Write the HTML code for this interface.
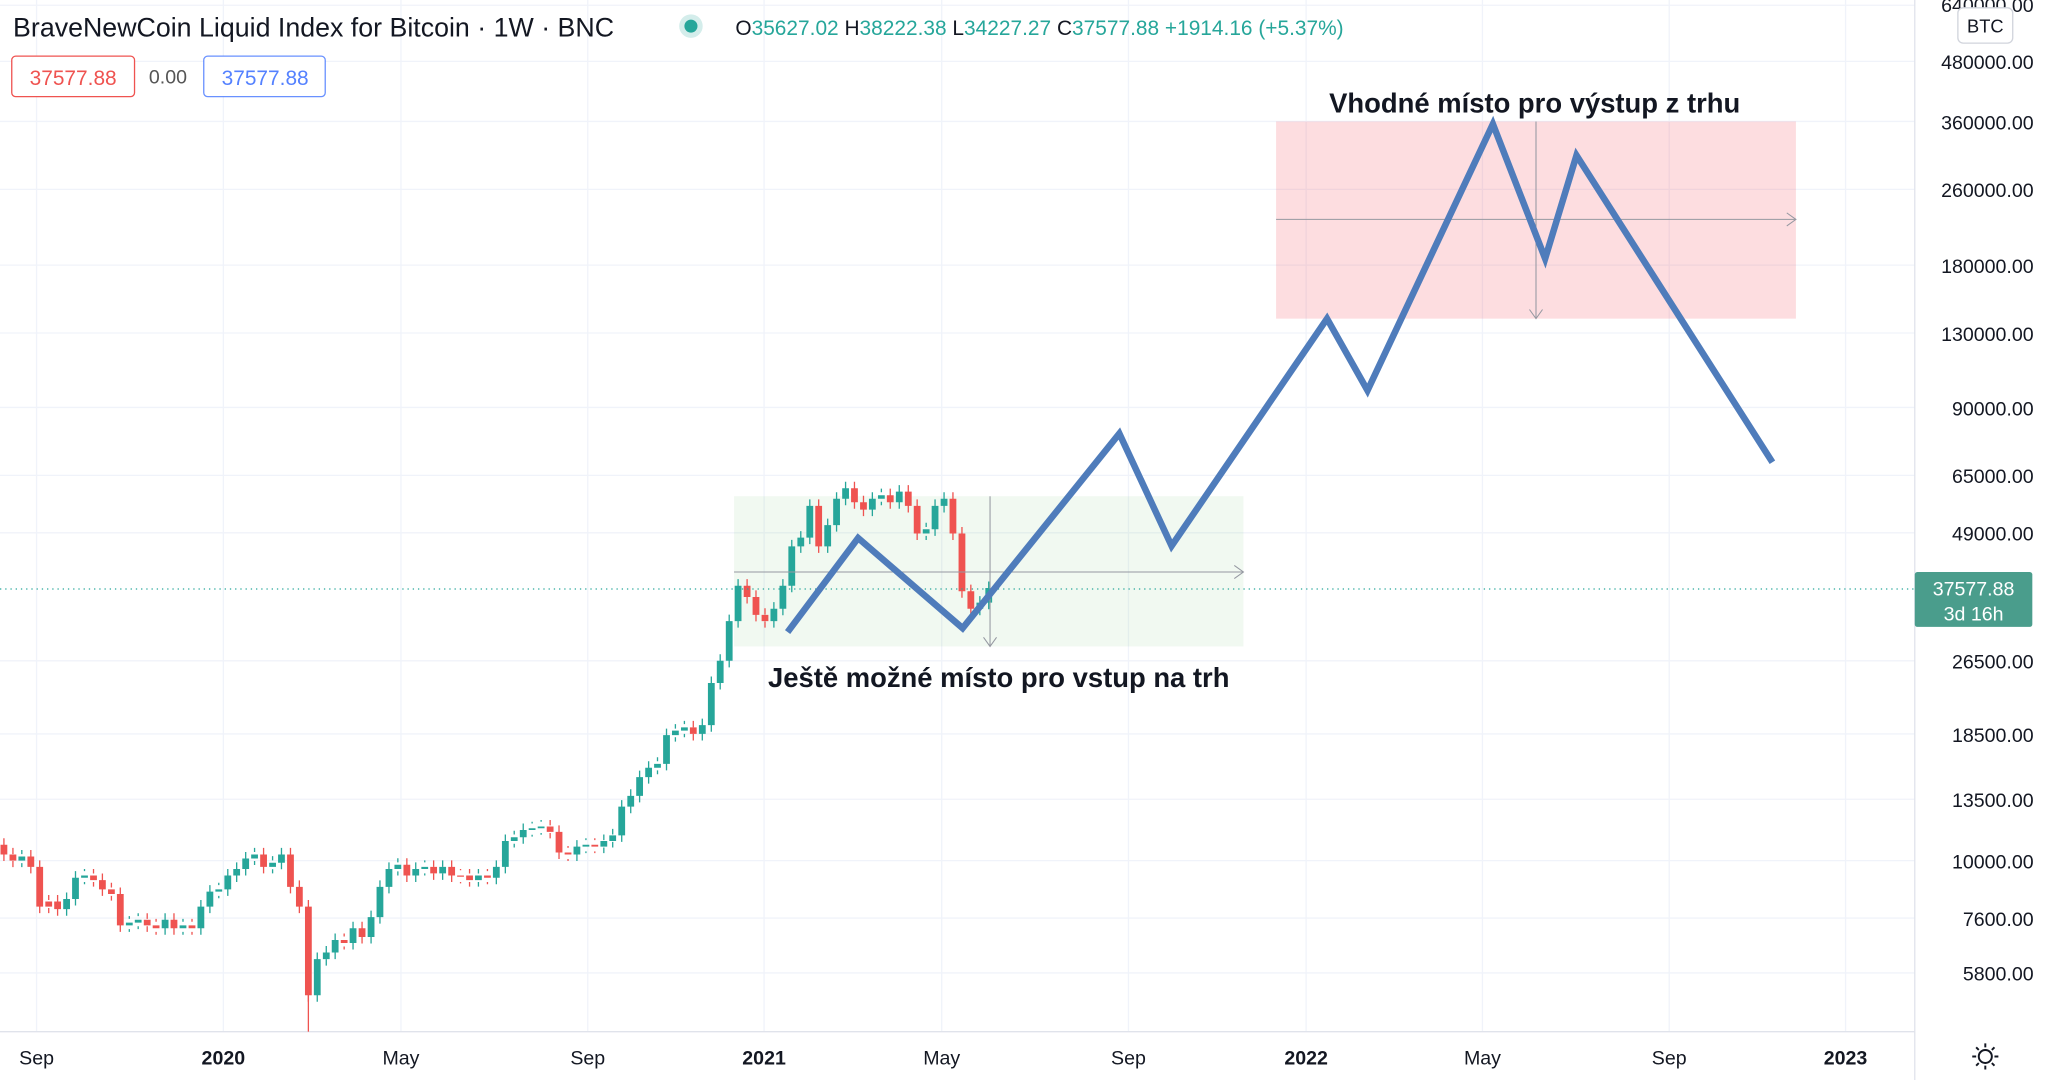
<!DOCTYPE html>
<html><head><meta charset="utf-8"><style>
html,body{margin:0;padding:0;background:#fff;}
svg{display:block;font-family:"Liberation Sans",sans-serif;}
</style></head><body>
<svg width="2048" height="1080" viewBox="0 0 1568 827" preserveAspectRatio="none" xmlns="http://www.w3.org/2000/svg" xmlns:xlink="http://www.w3.org/1999/xlink">
<rect width="1568" height="827" fill="#fff"/>
<g stroke="#f0f3fa" stroke-width="1">
<line x1="0" x2="1466" y1="4" y2="4"/><line x1="0" x2="1466" y1="47" y2="47"/><line x1="0" x2="1466" y1="93" y2="93"/><line x1="0" x2="1466" y1="145" y2="145"/><line x1="0" x2="1466" y1="203" y2="203"/><line x1="0" x2="1466" y1="255" y2="255"/><line x1="0" x2="1466" y1="312" y2="312"/><line x1="0" x2="1466" y1="364" y2="364"/><line x1="0" x2="1466" y1="408" y2="408"/><line x1="0" x2="1466" y1="506" y2="506"/><line x1="0" x2="1466" y1="562" y2="562"/><line x1="0" x2="1466" y1="612" y2="612"/><line x1="0" x2="1466" y1="659" y2="659"/><line x1="0" x2="1466" y1="703" y2="703"/><line x1="0" x2="1466" y1="745" y2="745"/>
<line x1="28" x2="28" y1="0" y2="790"/><line x1="171" x2="171" y1="0" y2="790"/><line x1="307" x2="307" y1="0" y2="790"/><line x1="450" x2="450" y1="0" y2="790"/><line x1="585" x2="585" y1="0" y2="790"/><line x1="721" x2="721" y1="0" y2="790"/><line x1="864" x2="864" y1="0" y2="790"/><line x1="1000" x2="1000" y1="0" y2="790"/><line x1="1135" x2="1135" y1="0" y2="790"/><line x1="1278" x2="1278" y1="0" y2="790"/><line x1="1413" x2="1413" y1="0" y2="790"/>
</g>
<line x1="1466" x2="1466" y1="0" y2="827" stroke="#e0e3eb"/>
<line x1="0" x2="1466" y1="790" y2="790" stroke="#e0e3eb"/>
<rect x="562" y="380" width="390" height="115" fill="#4caf50" fill-opacity="0.08"/>
<rect x="977" y="93" width="398" height="151" fill="#f23645" fill-opacity="0.17"/>
<defs>
<path id="g" d="M16.7 655.9V659M51 688.4V696.2M57.8 672.1V688.4M64.7 670.4V672.1M99 706.5V708.6M105.8 704.3V706.5M126.4 704.3V710.8M140.1 708.6V710.8M153.8 694.2V710.8M160.7 682.8V694.2M167.5 681V682.8M174.4 670.4V681M181.2 665.4V670.4M188.1 657.4V665.4M194.9 654.3V657.4M208.7 660.6V663.8M215.5 654.3V660.6M242.9 734.4V762.1M249.8 729.4V734.4M256.6 719.8V729.4M270.3 710.8V722.1M284.1 702.3V717.5M290.9 679.1V702.3M297.8 665.4V679.1M304.6 662.2V665.4M318.3 665.4V670.4M325.2 663.8V665.4M338.9 663.8V668.8M366.3 670.4V673.9M380 663.8V672.1M386.9 644V663.8M393.7 641.1V644M400.6 635.6V641.1M407.4 634.2V635.6M414.3 632.9V634.2M441.7 648.3V654.3M448.6 646.9V648.3M462.3 644V648.3M469.1 639.7V644M476 617.7V639.7M482.9 609.4V617.7M489.7 595.1V609.4M496.6 587.9V595.1M503.4 584.9V587.9M510.3 562.9V584.9M517.1 559.5V562.9M524 557V559.5M537.7 555.3V562M544.6 523V555.3M551.4 506V523M558.3 475.6V506M565.1 448.5V475.6M592.5 466.1V475.6M599.4 448.5V466.1M606.2 418.4V448.5M613.1 411.7V418.4M620 387.4V411.7M633.7 402.1V418.4M640.5 381.9V402.1M647.4 373.9V381.9M667.9 381.9V390.2M674.8 379.2V381.9M688.5 376.5V384.6M709.1 405.3V408.5M715.9 387.4V405.3M722.8 381.9V387.4M750.2 461.5V466.1M757 450.3V461.5"/>
<path id="r" d="M3 646.9V654.3M9.9 654.3V659M23.6 655.9V663.8M30.4 663.8V694.2M37.3 690.3V694.2M44.1 690.3V696.2M71.6 670.4V673.9M78.4 673.9V681M85.3 681V684.6M92.1 684.6V708.6M112.7 704.3V708.6M119.5 708.6V710.8M133.2 704.3V710.8M147 708.6V710.8M201.8 654.3V663.8M222.4 654.3V679.1M229.2 679.1V694.2M236.1 694.2V762.1M263.5 719.8V722.1M277.2 710.8V717.5M311.5 662.2V670.4M332 663.8V668.8M345.8 663.8V670.4M352.6 670.4V671.4M359.5 670.4V673.9M373.2 670.4V672.1M421.2 632.9V637M428 637V652.8M434.9 652.8V654.3M455.4 646.9V648.3M530.8 557V562M572 448.5V457.1M578.8 457.1V470.8M585.7 470.8V475.6M626.8 387.4V418.4M654.2 373.9V384.6M661.1 384.6V390.2M681.6 379.2V384.6M695.4 376.5V387.4M702.2 387.4V408.5M729.6 381.9V408.5M736.5 408.5V452.7M743.3 452.7V466.1"/>
</defs>
<g fill="none">
<use xlink:href="#g" stroke="#26a69a" stroke-width="1" transform="translate(0,-5)"/>
<use xlink:href="#g" stroke="#26a69a" stroke-width="1" transform="translate(0,5)"/>
<use xlink:href="#g" stroke="#26a69a" stroke-width="5.2"/>
<use xlink:href="#r" stroke="#ef5350" stroke-width="1" transform="translate(0,-5)"/>
<use xlink:href="#r" stroke="#ef5350" stroke-width="1" transform="translate(0,5)"/>
<use xlink:href="#r" stroke="#ef5350" stroke-width="5.2"/>
<line x1="236.1" x2="236.1" y1="760" y2="790" stroke="#ef5350" stroke-width="1"/>
</g>
<g stroke="#9598a1" stroke-width="0.8" fill="none">
<line x1="562" x2="952" y1="438" y2="438"/><polyline points="945,433 952,438 945,443"/>
<line x1="758" x2="758" y1="380" y2="495"/><polyline points="753,488 758,495 763,488"/>
<line x1="977" x2="1375" y1="168" y2="168"/><polyline points="1368,163 1375,168 1368,173"/>
<line x1="1176" x2="1176" y1="93" y2="244"/><polyline points="1171,237 1176,244 1181,237"/>
</g>
<line x1="0" x2="1466" y1="451" y2="451" stroke="#26a69a" stroke-dasharray="1,3"/>
<polyline points="603,484 657,412 737,481 857,332 897,418 1016,244 1047,299 1143,95 1183,198 1207,119 1357,354" fill="none" stroke="#4f7cbb" stroke-width="5" stroke-linejoin="miter"/>
<text x="1175" y="86" font-size="21" font-weight="bold" text-anchor="middle" fill="#131722">Vhodné místo pro výstup z trhu</text>
<text x="588" y="526" font-size="21" font-weight="bold" fill="#131722">Ještě možné místo pro vstup na trh</text>
<text x="10" y="28" font-size="20.5" fill="#131722">BraveNewCoin Liquid Index for Bitcoin · 1W · BNC</text>
<circle cx="529" cy="20" r="9" fill="#26a69a" fill-opacity="0.2"/><circle cx="529" cy="20" r="5" fill="#26a69a"/>
<text x="563" y="27" font-size="16" fill="#26a69a"><tspan fill="#131722">O</tspan>35627.02 <tspan fill="#131722">H</tspan>38222.38 <tspan fill="#131722">L</tspan>34227.27 <tspan fill="#131722">C</tspan>37577.88 +1914.16 (+5.37%)</text>
<rect x="9" y="43" width="94" height="31" rx="3" fill="#fff" stroke="#ef5350"/>
<text x="56" y="65" font-size="16" fill="#ef5350" text-anchor="middle">37577.88</text>
<text x="114" y="64" font-size="15" fill="#555">0.00</text>
<rect x="156" y="43" width="93" height="31" rx="3" fill="#fff" stroke="#2962ff" stroke-opacity="0.7"/>
<text x="203" y="65" font-size="16" fill="#2962ff" text-anchor="middle" fill-opacity="0.8">37577.88</text>
<g font-size="15" fill="#131722" text-anchor="end">
<text x="1557" y="9">640000.00</text><text x="1557" y="53">480000.00</text><text x="1557" y="99">360000.00</text><text x="1557" y="151">260000.00</text><text x="1557" y="209">180000.00</text><text x="1557" y="261">130000.00</text><text x="1557" y="318">90000.00</text><text x="1557" y="370">65000.00</text><text x="1557" y="414">49000.00</text><text x="1557" y="512">26500.00</text><text x="1557" y="568">18500.00</text><text x="1557" y="618">13500.00</text><text x="1557" y="665">10000.00</text><text x="1557" y="709">7600.00</text><text x="1557" y="751">5800.00</text>
</g>
<rect x="1499" y="6" width="42" height="27" rx="4" fill="#fff" stroke="#d1d4dc"/>
<text x="1520" y="25" font-size="14" fill="#131722" text-anchor="middle">BTC</text>
<rect x="1466" y="438" width="90" height="42" rx="2" fill="#4a9d8c"/>
<text x="1511" y="456" font-size="15" fill="#fff" text-anchor="middle">37577.88</text>
<text x="1511" y="475" font-size="15" fill="#fff" text-anchor="middle">3d 16h</text>
<g font-size="15" fill="#131722" text-anchor="middle">
<text x="28" y="815">Sep</text><text x="171" y="815" font-weight="bold">2020</text><text x="307" y="815">May</text><text x="450" y="815">Sep</text><text x="585" y="815" font-weight="bold">2021</text><text x="721" y="815">May</text><text x="864" y="815">Sep</text><text x="1000" y="815" font-weight="bold">2022</text><text x="1135" y="815">May</text><text x="1278" y="815">Sep</text><text x="1413" y="815" font-weight="bold">2023</text>
</g>
<g stroke="#131722" stroke-width="1.5" fill="none"><circle cx="1520" cy="809" r="5"/>
<path d="M1520 799v3M1520 816v3M1510 809h3M1527 809h3M1513 802l2 2M1525 814l2 2M1513 816l2-2M1525 804l2-2"/></g>
</svg>
</body></html>
